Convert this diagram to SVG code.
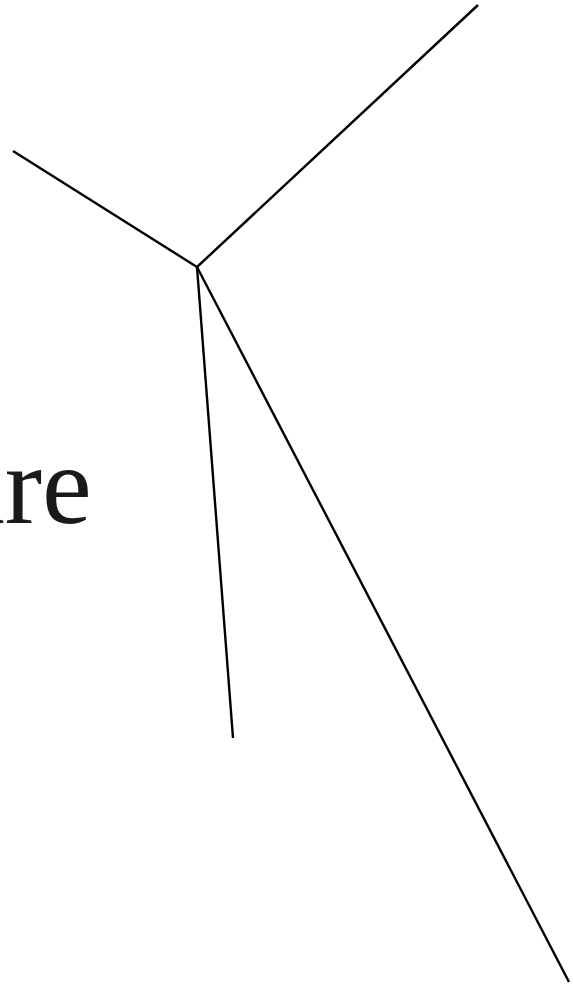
<svg xmlns="http://www.w3.org/2000/svg" width="573" height="989" viewBox="0 0 573 989">
<style>
.edge{stroke:#000;stroke-width:2.4;fill:none;stroke-linecap:butt}
.lbl{font-family:"Liberation Serif","Times New Roman",serif;font-size:112px;fill:#1a1a1a}
</style>
<rect width="573" height="989" fill="#fff"/>
<g id="label-are"><text class="lbl" x="-45" y="523">are</text></g>
<g id="connectors">
<line class="edge" x1="197" y1="267" x2="13" y2="151"/>
<line class="edge" x1="197" y1="267" x2="478" y2="5"/>
<line class="edge" x1="197" y1="267" x2="233" y2="738"/>
<line class="edge" x1="197" y1="267" x2="569" y2="982"/>
</g>
</svg>
